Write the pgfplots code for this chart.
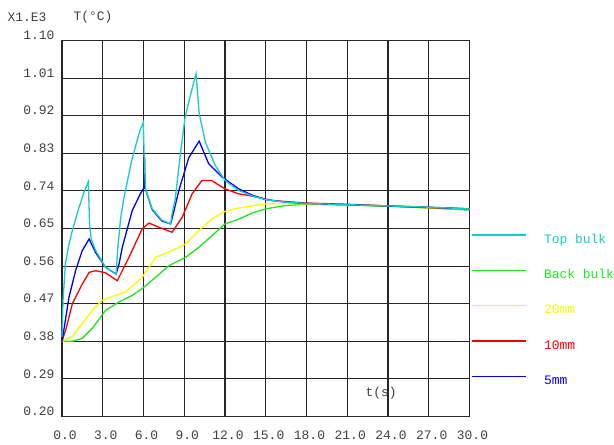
\documentclass[border=0pt]{standalone}
\usepackage{pgfplots}
\pgfplotsset{compat=1.18}
\usepackage{fontspec}
\setmainfont{Liberation Mono}
\setmonofont{Liberation Mono}
\definecolor{tcyan}{RGB}{20,205,205}
\definecolor{tgreen}{RGB}{30,230,30}
\definecolor{tyellow}{RGB}{250,250,0}
\definecolor{tred}{RGB}{250,0,0}
\definecolor{tblue}{RGB}{0,0,240}
\begin{document}
\fontsize{13}{15}\selectfont
\begin{tikzpicture}
\useasboundingbox (-62bp,-28.5bp) rectangle (552bp,416.5bp);
\begin{axis}[
  at={(0,0)}, anchor=south west,
  scale only axis, width=407.5bp, height=376bp,
  xmin=0, xmax=30, ymin=0.2, ymax=1.1,
  xtick={0,3,...,30},
  xticklabels={0.0,3.0,6.0,9.0,12.0,15.0,18.0,21.0,24.0,27.0,30.0},
  ytick={0.2,0.29,0.38,0.47,0.56,0.65,0.74,0.83,0.92,1.01,1.1},
  yticklabels={0.20,0.29,0.38,0.47,0.56,0.65,0.74,0.83,0.92,1.01,1.10},
  /pgf/number format/assume math mode=true,
  tick label style={font=\fontsize{13}{15}\selectfont, text=black!75},
  xticklabel style={yshift=-10bp, xshift=3bp},
  yticklabel style={yshift=5bp, xshift=-3bp},
  major tick length=0pt,
  grid=major, major grid style={black!85, line width=1.1bp},
  axis line style={black!85, line width=1.1bp},
  clip=false,
  legend style={at={(axis description cs:1.0054,0.4851)}, anchor=north west,
    draw=none, fill=none, inner sep=0pt, outer sep=0pt,
    row sep=23.3bp, column sep=17bp,
    font=\fontsize{13}{15}\selectfont,
    nodes={inner sep=0pt, text height=9bp, text depth=3bp}},
  legend cell align=left,
  legend image code/.code={\draw[#1, line width=1.3bp] (0bp,5bp) -- (54bp,5bp);},
  every axis plot/.append style={line width=1.3bp},
]
\addlegendimage{tcyan}\addlegendentry{\textcolor{tcyan}{Top bulk}}
\addlegendimage{tgreen}\addlegendentry{\textcolor{tgreen}{Back bulk}}
\addlegendimage{tyellow}\addlegendentry{\textcolor{tyellow}{20mm}}
\addlegendimage{tred}\addlegendentry{\textcolor{tred}{10mm}}
\addlegendimage{tblue}\addlegendentry{\textcolor{tblue}{5mm}}
% Back bulk
\addplot[tgreen, forget plot] coordinates {
(0,0.38) (0.76,0.38) (1.49,0.387) (2.23,0.411) (3.21,0.454) (4.19,0.474)
(5.17,0.49) (5.9,0.506) (6.89,0.533) (7.87,0.561) (9.1,0.581) (10.07,0.605)
(11.05,0.633) (12.0,0.661) (13.0,0.672) (14.0,0.687) (15.0,0.697) (16.45,0.705)
(17.9,0.708) (21,0.706) (24,0.703) (27,0.699) (30,0.694)};
% 20mm
\addplot[tyellow, forget plot] coordinates {
(0,0.38) (0.76,0.392) (1.49,0.422) (2.23,0.454) (2.96,0.478) (3.94,0.49)
(4.68,0.498) (5.9,0.533) (6.89,0.581) (8.11,0.597) (9.1,0.613) (10.07,0.645)
(11.05,0.673) (12.0,0.691) (13.0,0.699) (15.0,0.709) (18,0.709) (21,0.707)
(24,0.704) (27,0.700) (30,0.696)};
% 10mm
\addplot[tred, forget plot] coordinates {
(0,0.38) (0.3,0.41) (0.76,0.47) (1.49,0.517) (2.0,0.545) (2.48,0.549)
(3.21,0.544) (4.07,0.525) (4.93,0.581) (5.9,0.649) (6.4,0.663) (7.13,0.653)
(8.11,0.641) (8.85,0.677) (9.58,0.733) (10.3,0.765) (11.0,0.765) (12.0,0.745)
(13.0,0.733) (13.75,0.729) (15.5,0.717) (17.9,0.711) (21,0.708) (24,0.704)
(27,0.700) (30,0.697)};
% 5mm
\addplot[tblue, forget plot] coordinates {
(0,0.38) (0.2,0.42) (0.51,0.485) (1.0,0.549) (1.49,0.597) (2.0,0.625)
(2.48,0.592) (3.21,0.557) (3.98,0.541) (4.2,0.565) (4.44,0.605) (5.17,0.693)
(5.8,0.735) (6.05,0.748) (6.08,0.82) (6.11,0.748) (6.64,0.695) (7.35,0.668)
(8.0,0.661) (8.3,0.70) (8.6,0.741) (9.34,0.82) (10.1,0.859) (10.8,0.805)
(11.79,0.773) (13.0,0.745) (14,0.730) (15.0,0.719) (16.5,0.713) (18.0,0.710)
(21,0.707) (24,0.704) (27,0.701) (30,0.697)};
% Top bulk
\addplot[tcyan, forget plot] coordinates {
(0,0.39) (0.08,0.48) (0.25,0.565) (0.5,0.61) (0.76,0.645) (1.25,0.70)
(1.6,0.735) (1.94,0.762) (2.03,0.66) (2.15,0.625) (2.48,0.597) (3.21,0.557)
(3.98,0.541) (4.1,0.60) (4.3,0.67) (4.52,0.717) (5.13,0.813) (5.74,0.885)
(5.99,0.904) (6.05,0.82) (6.15,0.745) (6.64,0.697) (7.35,0.670) (8.0,0.661)
(8.1,0.685) (8.32,0.717) (8.69,0.821) (9.06,0.916) (9.5,0.975) (9.87,1.020)
(10.0,0.965) (10.1,0.925) (10.56,0.856) (11.3,0.800) (12.0,0.765) (13.0,0.741)
(14.0,0.728) (15.0,0.719) (16.5,0.713) (18.0,0.710) (21,0.707) (24,0.704)
(27,0.701) (30,0.697)};
\node[text=black!75] at (axis cs:23.5,0.255) {t(s)};
\node[text=black!75] at (rel axis cs:-0.086,1.063) {X1.E3};
\node[text=black!75] at (rel axis cs:0.076,1.063) {T(°C)};
\end{axis}
\end{tikzpicture}
\end{document}
